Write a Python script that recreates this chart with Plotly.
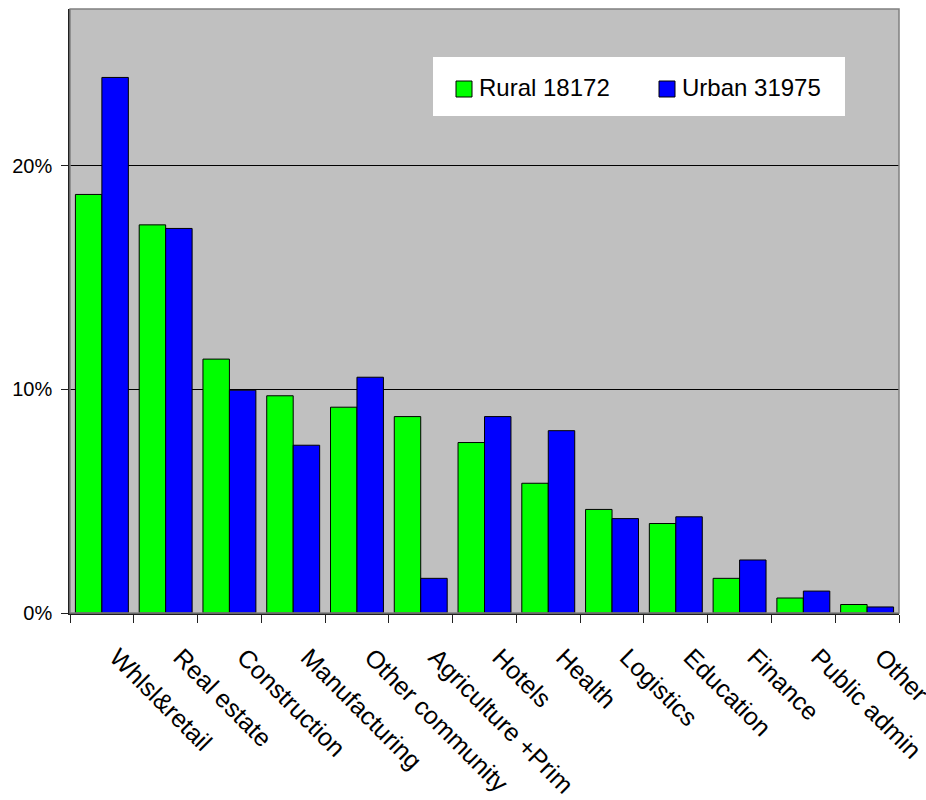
import plotly.graph_objects as go

categories = ["Whlsl&retail", "Real estate", "Construction", "Manufacturing",
              "Other community", "Agriculture +Prim", "Hotels", "Health",
              "Logistics", "Education", "Finance", "Public admin", "Other"]
rural = [0.1871, 0.1735, 0.1135, 0.0971, 0.0920, 0.0878, 0.0762, 0.0580,
         0.0463, 0.0400, 0.0155, 0.0067, 0.0038]
urban = [0.2394, 0.1719, 0.0996, 0.0750, 0.1054, 0.0155, 0.0878, 0.0815,
         0.0422, 0.0430, 0.0237, 0.0098, 0.0027]
rural_name = "Rural 18172"
urban_name = "Urban 31975"
y_ticks = [0, 0.1, 0.2]

FONT = "Liberation Sans, Arial, sans-serif"
GREEN = "#00FF00"
BLUE = "#0000FF"

# plot-area geometry in pixels
L, R, T, B = 70, 899, 9, 613
W_PLOT, H_PLOT = R - L, B - T


def px_x(x):
    return (x - L) / W_PLOT


def px_y(y):
    return (B - y) / H_PLOT


fig = go.Figure()
fig.add_trace(go.Bar(x=categories, y=rural, name=rural_name, showlegend=False,
                     marker=dict(color=GREEN, line=dict(color="black", width=1))))
fig.add_trace(go.Bar(x=categories, y=urban, name=urban_name, showlegend=False,
                     marker=dict(color=BLUE, line=dict(color="black", width=1))))

# legend box with swatches and labels
fig.add_shape(type="rect", xref="paper", yref="paper",
              x0=px_x(433), x1=px_x(845), y0=px_y(116), y1=px_y(57),
              fillcolor="white", line=dict(width=0), layer="above")
for x0, color, name in [(456, GREEN, rural_name), (659, BLUE, urban_name)]:
    fig.add_shape(type="rect", xref="paper", yref="paper",
                  x0=px_x(x0), x1=px_x(x0 + 16), y0=px_y(97), y1=px_y(81),
                  fillcolor=color, line=dict(color="black", width=1), layer="above")
    fig.add_annotation(xref="paper", yref="paper", x=px_x(x0 + 21), y=px_y(88),
                       xanchor="left", yanchor="middle", showarrow=False,
                       text=name, font=dict(size=24, family=FONT, color="black"))

# grey frame around the plot area
fig.add_shape(type="rect", xref="paper", yref="paper", x0=0, x1=1, y0=0, y1=1,
              line=dict(color="#808080", width=1.5), layer="above")

fig.update_layout(
    width=926, height=800,
    margin=dict(l=L, r=926 - R, t=T, b=800 - B, autoexpand=False),
    paper_bgcolor="white", plot_bgcolor="#C0C0C0",
    barmode="group", bargap=0.17, bargroupgap=0,
    font=dict(family=FONT, color="black"),
    showlegend=False,
)
fig.update_xaxes(
    type="category", tickson="boundaries", ticks="outside", ticklen=8,
    tickcolor="#202020", tickangle=45, tickfont=dict(size=25, family=FONT),
    ticklabelstandoff=18, ticklabelshift=15, automargin=False,
    showline=True, linecolor="#202020", linewidth=1.5, showgrid=False,
)
fig.update_yaxes(
    range=[0, 0.27], tickvals=y_ticks, tickformat=".0%",
    ticks="outside", ticklen=7, tickcolor="#202020",
    tickfont=dict(size=20, family=FONT), ticklabelstandoff=5, automargin=False,
    showline=True, linecolor="#202020", linewidth=1.5,
    showgrid=True, gridcolor="black", gridwidth=1, zeroline=False,
)

fig.write_html("out.html")
